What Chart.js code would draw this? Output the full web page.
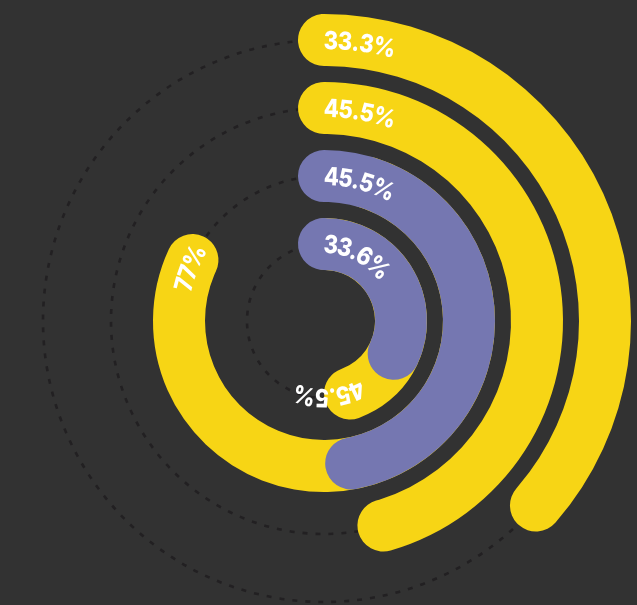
<!DOCTYPE html>
<html>
<head>
<meta charset="utf-8">
<script src="https://cdn.jsdelivr.net/npm/chart.js@4.4.1/dist/chart.umd.min.js"></script>
<style>
  html, body { margin: 0; padding: 0; background: #323232; }
  #wrap { position: relative; width: 637px; height: 605px; }
  #wrap canvas { position: absolute; left: 0; top: 0; }
</style>
</head>
<body>
<div id="wrap">
  <canvas id="under" width="637" height="605"></canvas>
  <canvas id="main" width="637" height="605"></canvas>
</div>
<script>
// rings, outside in. sweep = share of a full turn the bar covers (cap centre to cap centre)
var ringLabels = ['33.3%', '45.5%', '45.5%', '33.6%'];
var ringSweep = [36.4, 45.5, 47, 32];
var ringColors = ['#F7D515', '#F7D515', '#7577B1', '#7577B1'];

// yellow bars lying under the two purple rings
var underLabels = ['77%', '45.5%'];
var underRing = [2, 3];
var underStart = [4.9, 0.5];
var underSweep = [77, 44];
var underColor = '#F7D515';

var W = 637, H = 605;
var CX = 324, CY = 321;
var OUTER = 307, BAND = 52, GAP = 16;
var INNER = OUTER - 4 * BAND - 3 * GAP;
var CLEAR = 'rgba(0,0,0,0)';
var SQUEEZE = 0.88;

function midRadius(ring) {
  return OUTER - ring * (BAND + GAP) - BAND / 2;
}
// how much of the turn the rounded end takes up
function capPct(ring) {
  return (BAND / 2) / midRadius(ring) / (2 * Math.PI) * 100;
}

function buildDatasets(bars) {
  var sets = [];
  for (var i = 0; i < 4; i++) {
    if (i > 0) sets.push({ data: [1], backgroundColor: [CLEAR], weight: GAP / BAND });
    var b = bars[i];
    if (!b) {
      sets.push({ data: [1], backgroundColor: [CLEAR], weight: 1 });
      continue;
    }
    var cap = capPct(i);
    var len = b.sweep + 2 * cap;
    sets.push({
      data: [len, 100 - len],
      backgroundColor: [b.color, CLEAR],
      borderRadius: BAND / 2,
      rotation: (b.start - cap) * 3.6,
      weight: 1,
      caption: b.text,
      captionAt: b.at,
      captionShift: b.shift
    });
  }
  return sets;
}

function curvedText(ctx, text, x, y, r, a0) {
  var capH = 18;
  var a = a0;
  for (var k = 0; k < text.length; k++) {
    var ch = text[k];
    var w = ctx.measureText(ch).width * SQUEEZE - 0.3;
    var mid = a + (w / 2) / r;
    ctx.save();
    ctx.translate(x + r * Math.cos(mid), y + r * Math.sin(mid));
    ctx.rotate(mid + Math.PI / 2);
    ctx.scale(SQUEEZE, 1);
    ctx.fillText(ch, 0, capH / 2);
    ctx.restore();
    a += w / r;
  }
}

var trackPlugin = {
  id: 'tracks',
  beforeDatasetsDraw: function (chart) {
    var ctx = chart.ctx;
    ctx.save();
    ctx.strokeStyle = '#222022';
    ctx.lineWidth = 2.6;
    ctx.setLineDash([5, 8]);
    for (var i = 0; i < 4; i++) {
      var meta = chart.getDatasetMeta(i * 2);
      var arc = meta.data[0];
      var r = (meta.controller.innerRadius + meta.controller.outerRadius) / 2;
      ctx.beginPath();
      ctx.arc(arc.x, arc.y, r, 0, Math.PI * 2);
      ctx.stroke();
    }
    ctx.restore();
  }
};

var labelPlugin = {
  id: 'arcLabels',
  afterDatasetsDraw: function (chart) {
    var ctx = chart.ctx;
    ctx.save();
    ctx.font = '800 25px Inter, Lato, sans-serif';
    ctx.fillStyle = '#ffffff';
    ctx.textAlign = 'center';
    ctx.textBaseline = 'alphabetic';
    chart.data.datasets.forEach(function (ds, i) {
      if (!ds.caption) return;
      var arc = chart.getDatasetMeta(i).data[0];
      var r = (arc.innerRadius + arc.outerRadius) / 2;
      var cap = (BAND / 2) / r;
      var a0 = ds.captionAt === 'end' ? arc.endAngle - cap : arc.startAngle + cap;
      a0 += (ds.captionShift || 0) / r;
      curvedText(ctx, ds.caption, arc.x, arc.y, r, a0);
    });
    ctx.restore();
  }
};

function makeChart(id, bars, plugins) {
  return new Chart(document.getElementById(id), {
    type: 'doughnut',
    data: { labels: ['bar', 'rest'], datasets: buildDatasets(bars) },
    options: {
      responsive: false,
      animation: false,
      events: [],
      radius: OUTER,
      cutout: (INNER / OUTER * 100) + '%',
      layout: { padding: { left: 2 * CX - W, top: 2 * CY - H, right: 0, bottom: 0 } },
      elements: { arc: { borderWidth: 0, hoverOffset: 0 } },
      plugins: { legend: { display: false }, tooltip: { enabled: false } }
    },
    plugins: plugins
  });
}

var underBars = [null, null, null, null];
underRing.forEach(function (ring, k) {
  underBars[ring] = {
    start: underStart[k], sweep: underSweep[k], color: underColor,
    text: underLabels[k], at: 'end', shift: k === 0 ? -32 : -15
  };
});

var mainBars = ringLabels.map(function (t, i) {
  return { start: 0, sweep: ringSweep[i], color: ringColors[i], text: t, at: 'start', shift: 0 };
});

makeChart('under', underBars, [trackPlugin, labelPlugin]);
makeChart('main', mainBars, [labelPlugin]);
</script>
</body>
</html>
